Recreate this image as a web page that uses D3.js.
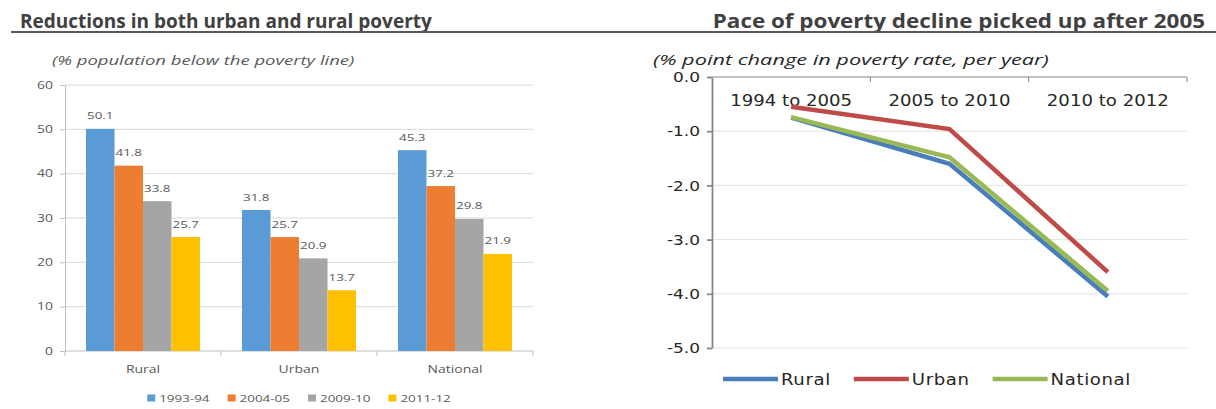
<!DOCTYPE html>
<html>
<head>
<meta charset="utf-8">
<script src="https://cdn.jsdelivr.net/npm/d3@7"></script>
<style>
  body { margin: 0; background: #fff; }
  svg { display: block; }
  .title { font-family: "Open Sans", sans-serif; font-weight: 700; font-size: 19px; fill: #404040; }
  .left text { font-family: "Open Sans", sans-serif; fill: #595959; }
  .right text { font-family: "DejaVu Sans", sans-serif; fill: #262626; }
</style>
</head>
<body>
<div id="chart"></div>
<script>
// left: poverty headcount by year
const categories = ['Rural', 'Urban', 'National'];
const periods = ['1993-94', '2004-05', '2009-10', '2011-12'];
const rural = [50.1, 41.8, 33.8, 25.7];
const urban = [31.8, 25.7, 20.9, 13.7];
const national = [45.3, 37.2, 29.8, 21.9];
const barTicks = [0, 10, 20, 30, 40, 50, 60];

// right: yearly change in poverty rate
const spans = ['1994 to 2005', '2005 to 2010', '2010 to 2012'];
const ruralPace = [-0.75, -1.6, -4.05];
const urbanPace = [-0.55, -0.96, -3.6];
const nationalPace = [-0.74, -1.48, -3.95];
const paceTicks = [0, -1, -2, -3, -4, -5];

const barColors = ['#5B9BD5', '#ED7D31', '#A5A5A5', '#FFC000'];
const lineColors = ['#4A7EBB', '#BE4B48', '#98B954'];

const W = 1216, H = 409;
// the source picture was stretched sideways, so text is widened to match
const KL = 1.4, KR = 1.17;

// move x/y into a transform and widen the glyphs by k
function stretch(sel, k) {
  sel.each(function() {
    const t = d3.select(this);
    const x = +t.attr('x') || 0, y = +t.attr('y') || 0;
    t.attr('x', null).attr('y', null)
      .attr('transform', `translate(${x},${y}) scale(${k},1)`);
  });
}

const svg = d3.select('#chart').append('svg')
  .attr('width', W)
  .attr('height', H);

svg.append('text').attr('class', 'title')
  .attr('x', 20).attr('y', 28)
  .text('Reductions in both urban and rural poverty');
svg.append('text').attr('class', 'title')
  .attr('x', 1205).attr('y', 28)
  .attr('text-anchor', 'end')
  .text('Pace of poverty decline picked up after 2005')
  .call(stretch, 1.18);
svg.append('line')
  .attr('x1', 11).attr('x2', W)
  .attr('y1', 32).attr('y2', 32)
  .attr('stroke', '#595959')
  .attr('stroke-width', 2);

/* ---------- bar chart ---------- */
const left = svg.append('g').attr('class', 'left');

const y = d3.scaleLinear().domain([0, 60]).range([351, 85]);
const x0 = d3.scaleBand().domain(categories).range([65, 533]);
const x1 = d3.scaleBand().domain(periods).range([0, x0.bandwidth()]).paddingOuter(0.737);

left.append('text')
  .attr('x', 52).attr('y', 65)
  .style('font-style', 'italic')
  .style('font-size', '13.2px')
  .text('(% population below the poverty line)')
  .call(stretch, KL);

left.selectAll('.grid')
  .data(barTicks.filter(d => d > 0))
  .enter()
  .append('line')
    .attr('class', 'grid')
    .attr('x1', x0.range()[0]).attr('x2', x0.range()[1])
    .attr('y1', d => y(d)).attr('y2', d => y(d))
    .attr('stroke', '#d9d9d9');

const yAxis = left.append('g')
  .attr('transform', `translate(${x0.range()[0]},0)`)
  .call(d3.axisLeft(y).tickValues(barTicks).tickSize(5).tickSizeOuter(0).tickPadding(7));
yAxis.selectAll('path, line').attr('stroke', '#bfbfbf');
yAxis.selectAll('text').style('font-size', '10px').attr('fill', '#595959').call(stretch, KL);

// category axis with ticks between groups
left.append('line')
  .attr('x1', x0.range()[0]).attr('x2', x0.range()[1])
  .attr('y1', y(0)).attr('y2', y(0))
  .attr('stroke', '#bfbfbf');
left.selectAll('.sep')
  .data(categories.map(c => x0(c)).concat([x0.range()[1]]))
  .enter()
  .append('line')
    .attr('x1', d => d).attr('x2', d => d)
    .attr('y1', y(0)).attr('y2', y(0) + 5)
    .attr('stroke', '#bfbfbf');

const xAxis = left.append('g')
  .attr('transform', `translate(0,${y(0)})`)
  .call(d3.axisBottom(x0).tickSize(0).tickPadding(15));
xAxis.select('.domain').remove();
xAxis.selectAll('text').style('font-size', '10px').attr('fill', '#595959').call(stretch, KL);

const seriesByCat = [rural, urban, national];
const groups = left.selectAll('.cat')
  .data(categories)
  .enter()
  .append('g')
    .attr('class', 'cat')
    .attr('transform', d => `translate(${x0(d)},0)`);

groups.selectAll('rect')
  .data((c, i) => periods.map((p, j) => ({ p, v: seriesByCat[i][j], j })))
  .enter()
  .append('rect')
    .attr('x', d => x1(d.p))
    .attr('y', d => y(d.v))
    .attr('width', x1.bandwidth())
    .attr('height', d => y(0) - y(d.v))
    .attr('fill', d => barColors[d.j]);

groups.selectAll('.lbl')
  .data((c, i) => periods.map((p, j) => ({ p, v: seriesByCat[i][j] })))
  .enter()
  .append('text')
    .attr('class', 'lbl')
    .attr('x', d => x1(d.p) + x1.bandwidth() / 2)
    .attr('y', d => y(d.v) - 9.5)
    .attr('text-anchor', 'middle')
    .style('font-size', '9.6px')
    .attr('fill', '#404040')
    .text(d => d.v.toFixed(1))
    .call(stretch, KL);

// legend, centred under the plot
const legL = left.append('g');
let lx = 0;
periods.forEach((p, j) => {
  legL.append('rect')
    .attr('x', lx).attr('y', 394.5)
    .attr('width', 8).attr('height', 7)
    .attr('fill', barColors[j]);
  const t = legL.append('text')
    .attr('x', lx + 12).attr('y', 402)
    .style('font-size', '9.6px')
    .text(p);
  const w = t.node().getComputedTextLength() * KL;
  t.call(stretch, KL);
  lx += 12 + w + (j < periods.length - 1 ? 18 : 0);
});
legL.attr('transform', `translate(${(x0.range()[0] + x0.range()[1]) / 2 - lx / 2},0)`);

/* ---------- line chart ---------- */
const right = svg.append('g').attr('class', 'right');

const yR = d3.scaleLinear().domain([-5, 0]).range([348, 77]);
const xR = d3.scaleBand().domain(spans).range([712, 1187]);
const mid = d => xR(d) + xR.bandwidth() / 2;

right.append('text')
  .attr('x', 653).attr('y', 65)
  .style('font-family', '"Open Sans", sans-serif')
  .style('font-style', 'italic')
  .style('font-size', '15px')
  .attr('fill', '#404040')
  .text('(% point change in poverty rate, per year)')
  .call(stretch, 1.45);

right.selectAll('.grid')
  .data(paceTicks.filter(d => d < 0))
  .enter()
  .append('line')
    .attr('class', 'grid')
    .attr('x1', xR.range()[0]).attr('x2', xR.range()[1])
    .attr('y1', d => yR(d)).attr('y2', d => yR(d))
    .attr('stroke', '#e3e3e3');

const yAxisR = right.append('g')
  .attr('transform', `translate(${xR.range()[0]},0)`)
  .call(d3.axisLeft(yR).tickValues(paceTicks).tickFormat(d => d.toFixed(1))
    .tickSize(5).tickSizeOuter(0).tickPadding(7));
yAxisR.selectAll('path, line').attr('stroke', '#868686').attr('stroke-width', 1.8);
yAxisR.selectAll('text').style('font-size', '14.5px').attr('fill', '#262626').call(stretch, KR);

// category axis sits on zero, at the top
right.append('line')
  .attr('x1', xR.range()[0]).attr('x2', xR.range()[1])
  .attr('y1', yR(0)).attr('y2', yR(0))
  .attr('stroke', '#868686')
  .attr('stroke-width', 1.2);
right.selectAll('.sep')
  .data(spans.slice(1).map(s => xR(s)).concat([xR.range()[1]]))
  .enter()
  .append('line')
    .attr('x1', d => d).attr('x2', d => d)
    .attr('y1', yR(0)).attr('y2', yR(0) + 5)
    .attr('stroke', '#868686');

right.selectAll('.span')
  .data(spans)
  .enter()
  .append('text')
    .attr('x', mid)
    .attr('y', 106)
    .attr('text-anchor', 'middle')
    .style('font-size', '15.5px')
    .text(d => d)
    .call(stretch, KR);

const line = d3.line()
  .x((d, i) => mid(spans[i]))
  .y(d => yR(d));

const paceSeries = [ruralPace, urbanPace, nationalPace];
right.selectAll('.pace')
  .data(paceSeries)
  .enter()
  .append('path')
    .attr('class', 'pace')
    .attr('d', line)
    .attr('fill', 'none')
    .attr('stroke', (d, i) => lineColors[i])
    .attr('stroke-width', 4.5);

// legend
const legR = right.append('g');
let rx = 723;
categories.forEach((c, i) => {
  legR.append('line')
    .attr('x1', rx).attr('x2', rx + 55)
    .attr('y1', 379).attr('y2', 379)
    .attr('stroke', lineColors[i])
    .attr('stroke-width', 4.5);
  const t = legR.append('text')
    .attr('x', rx + 58).attr('y', 385)
    .style('font-size', '15.5px')
    .style('letter-spacing', '0.5px')
    .text(c);
  const w = t.node().getComputedTextLength() * KR;
  t.call(stretch, KR);
  rx += 58 + w + 23;
});
</script>
</body>
</html>
